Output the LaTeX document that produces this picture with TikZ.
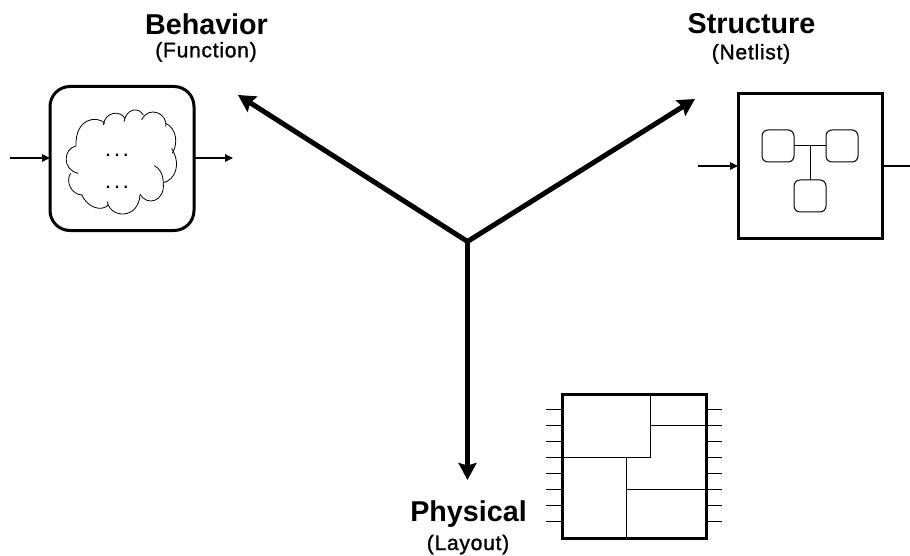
\documentclass[tikz,border=0pt]{standalone}
\usepackage{fontspec}
\setmainfont{Liberation Sans}
\newfontfamily\subfont[FakeBold=1.4,LetterSpace=3.6]{Liberation Sans}
\usetikzlibrary{arrows.meta}
\tikzset{
  px/.style={x=1pt,y=-1pt},
  titlelabel/.style={font=\fontsize{28.7}{30}\selectfont\bfseries,inner sep=0pt,anchor=base},
  sublabel/.style={font=\subfont\fontsize{21}{24}\selectfont,inner sep=0pt,anchor=base},
  axisline/.style={line width=5pt,-{Stealth[length=17pt,width=18pt,inset=2.5pt]}},
  pinarrow/.style={line width=1.6pt,-{Stealth[length=8pt,width=7.5pt,inset=0pt]}},
  pinline/.style={line width=1.6pt},
  bigbox/.style={draw,line width=3pt,minimum size=144pt,inner sep=0pt,outer sep=0pt},
  smallbox/.style={draw,line width=1pt,rounded corners=6pt,minimum size=32pt,inner sep=0pt,outer sep=0pt},
  wire/.style={line width=1pt},
  dotslabel/.style={font=\fontsize{16}{16}\selectfont\bfseries,inner sep=0pt,anchor=base},
}
\begin{document}
\begin{tikzpicture}[px]
\useasboundingbox (0,0) rectangle (910,556);
% labels
\node[titlelabel] (tb) at (206.5,34.3) {Behavior};
\node[sublabel] (sb) at (206,57.3) {(Function)};
\node[titlelabel] (ts) at (751.5,33.3) {Structure};
\node[sublabel] (ss) at (751,59.3) {(Netlist)};
\node[titlelabel] (tp) at (468.5,521.7) {Physical};
\node[sublabel] (sp) at (468,550) {(Layout)};
% axes
\coordinate (o) at (467.5,241.5);
\coordinate (ab) at (238,95);
\coordinate (as) at (695,99);
\coordinate (ap) at (467.5,480);
\draw[axisline] (o) -- (ab);
\draw[axisline] (o) -- (as);
\draw[axisline] (o) -- (ap);
% behavior box
\node[bigbox,rounded corners=20pt] (B) at (122,158.5) {};
\coordinate (bin) at (10,158);
\coordinate (bout) at (233,158);
\draw[pinarrow] (bin) -- (B.west |- bin);
\draw[pinarrow] (B.east |- bout) -- (bout);
\begin{scope}[shift={(0pt,-70pt)},x=0.3333pt,y=-0.3333pt,line width=0.8pt]
\draw (228,228) .. controls (190,235) and (185,300) .. (235,310);
\draw (212,310) .. controls (195,335) and (215,375) .. (247,375);
\draw (245,375) .. controls (265,415) and (305,425) .. (325,405);
\draw (322,395) .. controls (330,445) and (415,450) .. (420,375);
\draw (420,372) .. controls (440,410) and (495,395) .. (490,340) .. controls (490,315) and (480,295) .. (463,287);
\draw (490,338) .. controls (525,330) and (545,285) .. (515,235);
\draw (517,250) .. controls (535,220) and (530,175) .. (497,160);
\draw (497,170) .. controls (505,130) and (445,105) .. (425,150);
\draw (430,135) .. controls (415,110) and (380,115) .. (372,155);
\draw (375,145) .. controls (360,120) and (315,125) .. (310,165);
\draw (315,160) .. controls (290,135) and (225,145) .. (228,228);
\end{scope}
\node[dotslabel] (d1) at (117,157) {.\hspace{4.4pt}.\hspace{4.4pt}.};
\node[dotslabel] (d2) at (117,189) {.\hspace{4.4pt}.\hspace{4.4pt}.};
% structure box
\node[bigbox] (S) at (810,166) {};
\coordinate (sin) at (698,166);
\coordinate (sout) at (910,166);
\draw[pinarrow] (sin) -- (S.west);
\draw[pinline] (S.east) -- (sout);
\node[smallbox] (s1) at (778,146) {};
\node[smallbox] (s2) at (842,146) {};
\node[smallbox] (s3) at (810,196) {};
\draw[wire] (s1) -- (s2);
\draw[wire] (s3.north) -- (s3.north |- s1.east);
% layout box
\node[bigbox] (L) at (634,466) {};
\foreach \y in {409.3,425.3,441.3,457.3,473.3,489.3,505.3,521.3}{
  \draw[wire] (546,\y) -- (L.west |- {0,\y});
  \draw[wire] (L.east |- {0,\y}) -- (722,\y);
}
\draw[wire] (650,394) -- (650,457.3) -- (562,457.3);
\draw[wire] (650,425.3) -- (706,425.3);
\draw[wire] (626,457.3) -- (626,538);
\draw[wire] (626,489.3) -- (706,489.3);
\end{tikzpicture}
\end{document}
